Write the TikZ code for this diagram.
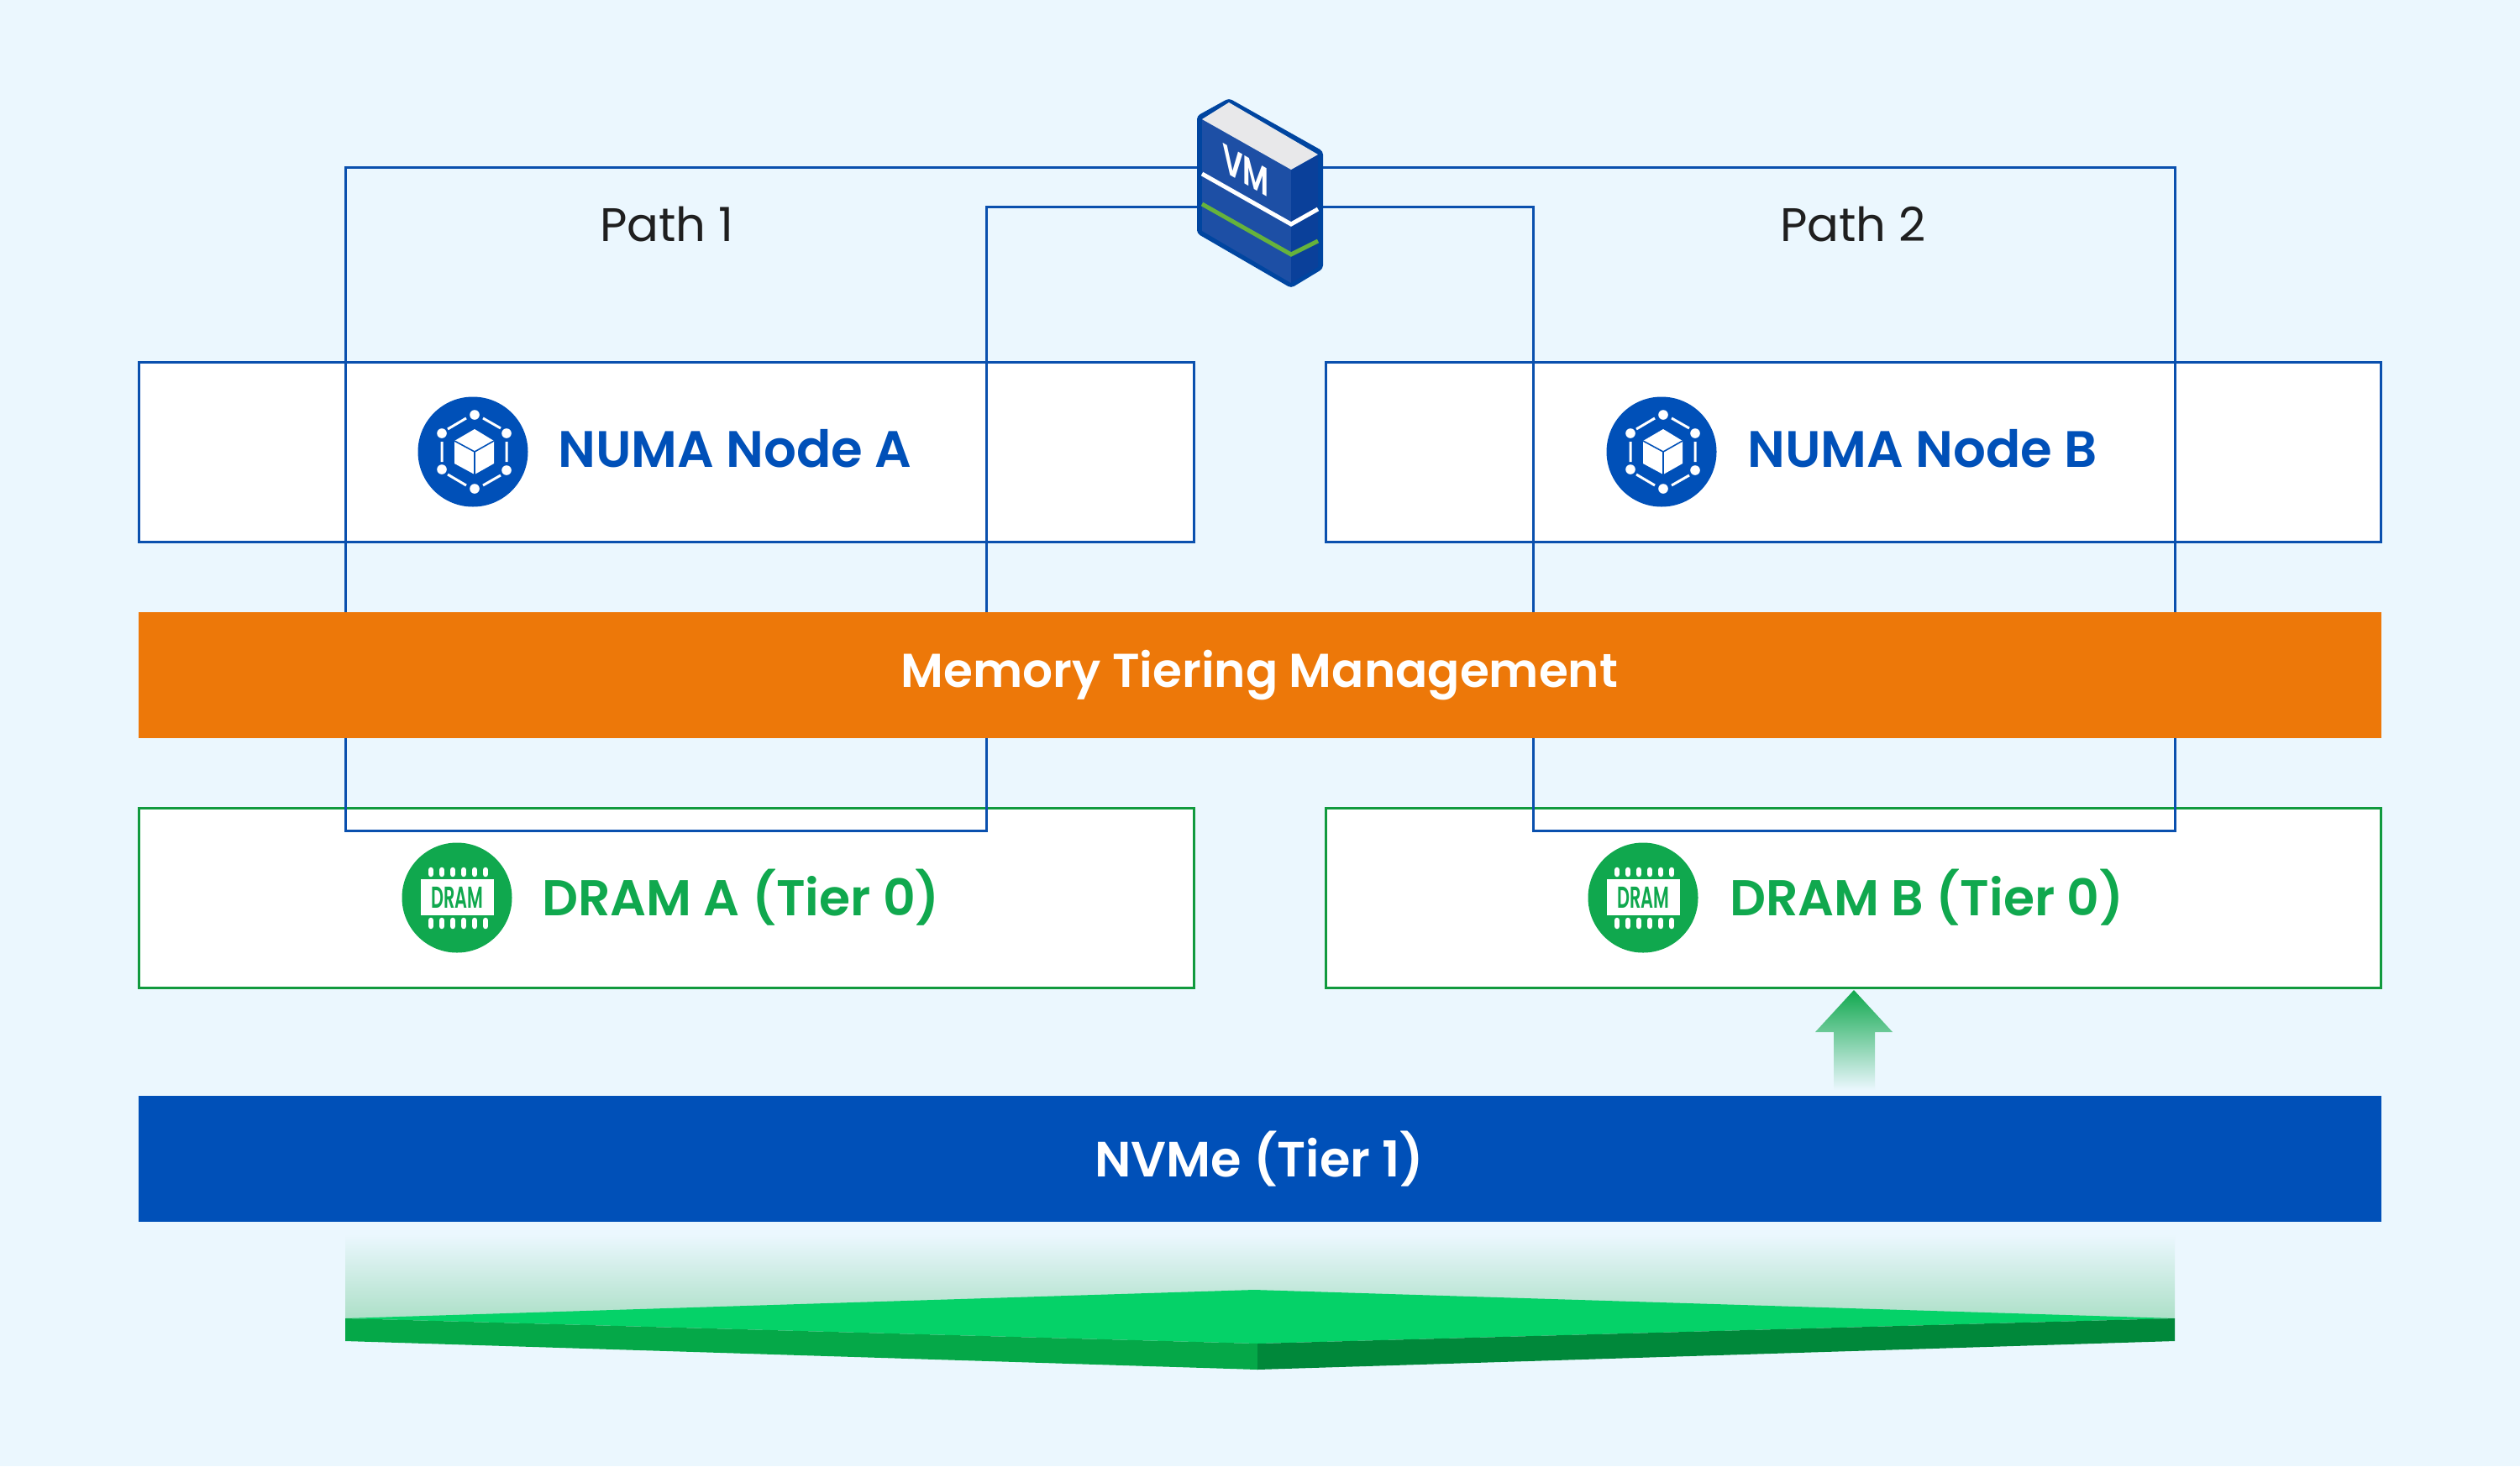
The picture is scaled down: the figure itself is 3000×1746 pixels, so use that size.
\documentclass[tikz,border=0pt]{standalone}
\usepackage{fontspec}
\usepackage{graphicx}
\setmainfont{Poppins}[BoldFont={Poppins SemiBold}]
\definecolor{bgc}{HTML}{EBF7FE}
\definecolor{blu}{HTML}{0050B8}
\definecolor{lineb}{HTML}{0A50AE}
\definecolor{org}{HTML}{ED7809}
\definecolor{grn}{HTML}{10A84E}
\definecolor{lineg}{HTML}{119A3E}
\definecolor{vmfront}{HTML}{1D4FA5}
\definecolor{vmright}{HTML}{0A409A}
\definecolor{vmedge}{HTML}{0045A0}
\definecolor{vmtop}{HTML}{E8E8EA}
\definecolor{vmgreen}{HTML}{66B33C}
\definecolor{ptop}{HTML}{05D268}
\definecolor{pleft}{HTML}{05A848}
\definecolor{pright}{HTML}{00883A}
\definecolor{pglow}{HTML}{ADE0C8}
\tikzset{
  x=1pt,y=-1pt,
  box/.style={draw,line width=3pt,fill=white,minimum width=1256pt,minimum height=214pt,inner sep=0pt,outer sep=0pt},
  numabox/.style={box,draw=lineb},
  drambox/.style={box,draw=lineg},
  band/.style={minimum width=2670pt,minimum height=150pt,inner sep=0pt,outer sep=0pt,text=white},
  route/.style={draw=lineb,line width=3pt,line join=miter},
  pathlabel/.style={inner sep=0pt,text=black!88,font=\fontsize{56}{70}\selectfont},
  numatext/.style={anchor=west,inner sep=0pt,text=blu,font=\fontsize{61}{72}\selectfont\bfseries},
  dramtext/.style={anchor=west,inner sep=0pt,text=grn,font=\fontsize{60}{72}\selectfont\bfseries},
  iconc/.style={circle,minimum size=131pt,inner sep=0pt,outer sep=0pt},
}
\newcommand{\numaicon}[3]{%
  \node[iconc,fill=blu] (#3) at (#1,#2) {};
  \begin{scope}[shift={(#1,#2)}]
    \foreach \p in {(2,-44),(40,-22),(40,22),(2,44),(-37,21),(-37,-22)} \fill[white] \p circle (5.8);
    \draw[white,line width=3pt] (-30,-27)--(-8,-40) (12,-40)--(33,-28) (40,-12)--(40,12) (33,28)--(12,40) (-8,40)--(-30,27) (-37,-12)--(-37,12);
    \fill[white] (2,-27)--(25,-13)--(25,14)--(2,27)--(-22,14)--(-22,-13)--cycle;
    \draw[blu,line width=1.6pt] (-22,-13)--(2,0)--(25,-13) (2,0)--(2,27);
  \end{scope}}
\newcommand{\dramicon}[3]{%
  \node[iconc,fill=grn] (#3) at (#1,#2) {};
  \begin{scope}[shift={(#1,#2)}]
    \foreach \q in {-31,-18,-5,8,21,34}{
      \draw[white,line width=6.5pt,line cap=round] (\q,-33)--(\q,-28);
      \draw[white,line width=6.5pt,line cap=round] (\q,27)--(\q,34);}
    \fill[white] (-43,-22) rectangle (44,21);
    \node[inner sep=0pt,text=grn,font=\fontsize{36}{40}\selectfont\bfseries] at (0.5,0) {\scalebox{0.58}[1]{DRAM}};
  \end{scope}}
\begin{document}
\begin{tikzpicture}
\useasboundingbox (0,0) rectangle (3000,1746);
\fill[bgc] (0,0) rectangle (3000,1746);

% boxes
\node[numabox] (numaA) at (793.5,538) {};
\node[numabox] (numaB) at (2206,538) {};
\node[drambox] (dramA) at (793.5,1069.5) {};
\node[drambox] (dramB) at (2206,1069.5) {};

% VM connection points
\coordinate (vmLa) at (1430,199);
\coordinate (vmLb) at (1430,246);
\coordinate (vmRa) at (1570,199);
\coordinate (vmRb) at (1570,246);

% routes
\draw[route] (vmLa) -- (411,199) -- (411,989) -- (1174,989) -- (1174,246) -- (vmLb);
\draw[route] (vmRa) -- (2589,199) -- (2589,989) -- (1825,989) -- (1825,246) -- (vmRb);

% bands
\node[band,fill=org,font=\fontsize{56.5}{70}\selectfont\bfseries] (tier) at (1499.5,804) {Memory Tiering Management};
\node[band,fill=blu,font=\fontsize{59}{70}\selectfont\bfseries] (nvme) at (1499.5,1380) {NVMe (Tier 1)};

% labels
\node[pathlabel] (p1) at (794,267) {Path 1};
\node[pathlabel] (p2) at (2206,267) {Path 2};

\numaicon{563}{538}{iconA}
\numaicon{1978}{538}{iconB}
\node[numatext] (ta) at (664,534) {NUMA Node A};
\node[numatext] (tb) at (2080,534) {NUMA Node B};

\dramicon{544}{1069}{iconC}
\dramicon{1956}{1069}{iconD}
\node[dramtext] (tc) at (645,1069) {DRAM A (Tier 0)};
\node[dramtext] (td) at (2059,1069) {DRAM B (Tier 0)};

% up arrow
\shade[top color=grn,bottom color=bgc]
  (2207,1179) -- (2253,1229) -- (2232,1229) -- (2232,1298) -- (2183,1298) -- (2183,1229) -- (2161,1229) -- cycle;

% platform
\shade[top color=bgc,bottom color=pglow] (411,1470) rectangle (2589,1570);
\fill[ptop] (411,1570) -- (1493,1536) -- (2589,1570) -- (1497,1600) -- cycle;
\fill[pleft] (411,1570) -- (1497,1600) -- (1497,1631) -- (411,1597) -- cycle;
\fill[pright] (2589,1570) -- (1497,1600) -- (1497,1631) -- (2589,1597) -- cycle;

% VM
\fill[vmedge,rounded corners=4pt] (1425,138) -- (1463,117) -- (1575,180) -- (1575,320) -- (1537,343) -- (1425,278) -- cycle;
\fill[vmfront] (1431,142) -- (1537,202) -- (1537,337) -- (1431,275) -- cycle;
\fill[vmright] (1537,202) -- (1569,184) -- (1569,318) -- (1537,337) -- cycle;
\fill[vmtop] (1431,142) -- (1463,122) -- (1569,184) -- (1537,202) -- cycle;
\draw[white,line width=5pt] (1431,207) -- (1537,267) -- (1569,249);
\draw[vmgreen,line width=5pt] (1431,243) -- (1537,303) -- (1569,287);
\node[inner sep=0pt,text=white,font=\fontsize{48}{50}\selectfont\bfseries,transform shape,cm={0.72,-0.42,0,1,(0,0)}] (vm) at (1483,203) {VM};
\end{tikzpicture}
\end{document}
